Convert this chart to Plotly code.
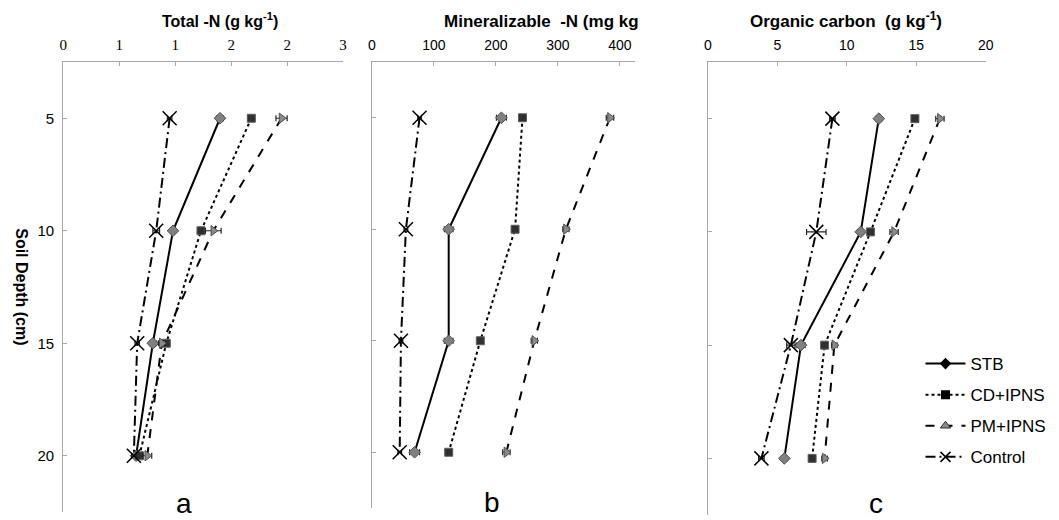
import plotly.graph_objects as go

# ---------------- data ----------------
depth = [5, 10, 15, 20]
series_names = ["STB", "CD+IPNS", "PM+IPNS", "Control"]

# Panel a: Total-N (g kg-1)
totn_stb = [1.40, 0.98, 0.80, 0.65]
totn_cd = [1.68, 1.23, 0.92, 0.68]
totn_pm = [1.95, 1.34, 0.88, 0.75]
totn_ctrl = [0.95, 0.83, 0.66, 0.63]
totn_stb_err = [0.03, 0.02, 0.03, 0.02]
totn_cd_err = [0.03, 0.03, 0.03, 0.03]
totn_pm_err = [0.05, 0.07, 0.03, 0.04]
totn_ctrl_err = [0.02, 0.03, 0.02, 0.02]

# Panel b: Mineralizable-N (mg kg-1)
minn_stb = [209, 124, 124, 69]
minn_cd = [243, 231, 175, 124]
minn_pm = [384, 313, 262, 217]
minn_ctrl = [77, 55, 47, 45]
minn_stb_err = [8, 7, 7, 8]
minn_cd_err = [4, 4, 4, 5]
minn_pm_err = [6, 5, 5, 6]
minn_ctrl_err = [3, 3, 3, 3]

# Panel c: Organic carbon (g kg-1)
oc_stb = [12.3, 11.0, 6.7, 5.5]
oc_cd = [14.9, 11.7, 8.4, 7.5]
oc_pm = [16.7, 13.4, 9.1, 8.4]
oc_ctrl = [8.96, 7.8, 5.97, 3.85]
oc_stb_err = [0.2, 0.2, 0.3, 0.2]
oc_cd_err = [0.2, 0.2, 0.2, 0.2]
oc_pm_err = [0.3, 0.3, 0.2, 0.2]
oc_ctrl_err = [0.2, 0.7, 0.3, 0.2]

totn_ticks = [0, 0.5, 1.0, 1.5, 2.0, 2.5]
totn_ticktext = ["0", "1", "1", "2", "2", "3"]
depth_ticks = [5, 10, 15, 20]

# ---------------- styles ----------------
styles = {
    "STB": dict(line=dict(color="black", width=2, dash="solid"),
                marker=dict(symbol="diamond", size=9, color="#808080",
                            line=dict(color="#505050", width=1))),
    "CD+IPNS": dict(line=dict(color="black", width=2, dash="dot"),
                    marker=dict(symbol="square", size=8, color="#303030",
                                line=dict(color="#606060", width=1))),
    "PM+IPNS": dict(line=dict(color="black", width=2, dash="dash"),
                    marker=dict(symbol="triangle-right", size=9, color="#8a8a8a",
                                line=dict(color="#505050", width=1))),
    "Control": dict(line=dict(color="black", width=2, dash="10px,4px,2px,4px"),
                    marker=dict(symbol="x-thin-open", size=14, color="black",
                                line=dict(color="black", width=1.5))),
}
legend_markers = {
    "STB": dict(symbol="diamond", size=9, color="black"),
    "CD+IPNS": dict(symbol="square", size=9, color="black"),
    "PM+IPNS": dict(symbol="triangle-up", size=9, color="#8a8a8a",
                    line=dict(color="#303030", width=1)),
    "Control": dict(symbol="x-thin-open", size=10, color="black",
                    line=dict(color="black", width=1.5)),
}

panels = [
    ("x", "y", [totn_stb, totn_cd, totn_pm, totn_ctrl],
     [totn_stb_err, totn_cd_err, totn_pm_err, totn_ctrl_err]),
    ("x2", "y2", [minn_stb, minn_cd, minn_pm, minn_ctrl],
     [minn_stb_err, minn_cd_err, minn_pm_err, minn_ctrl_err]),
    ("x3", "y3", [oc_stb, oc_cd, oc_pm, oc_ctrl],
     [oc_stb_err, oc_cd_err, oc_pm_err, oc_ctrl_err]),
]

fig = go.Figure()
for xa, ya, vals, errs in panels:
    for name, v, e in zip(series_names, vals, errs):
        st = styles[name]
        fig.add_trace(go.Scatter(
            x=v, y=depth, xaxis=xa, yaxis=ya, mode="lines+markers",
            line=st["line"], marker=st["marker"], showlegend=False,
            error_x=dict(type="data", array=e, visible=True, color="#222222",
                         thickness=1.2, width=3),
            name=name,
        ))

# legend entries
for i, name in enumerate(series_names):
    fig.add_trace(go.Scatter(
        x=[None], y=[None], xaxis="x3", yaxis="y3", mode="lines+markers",
        name=name, line=styles[name]["line"], marker=legend_markers[name],
        legendgroup=name, showlegend=True,
    ))

W, H = 1059, 520
axis_grey = "#a8a8a8"

def xdom(a, b):
    return [a / W, b / W]

def ydom(top, bottom):
    return [1 - bottom / H, 1 - top / H]

common_x = dict(side="top", showline=True, linecolor=axis_grey, linewidth=1.3,
                ticks="inside", ticklen=4, tickcolor=axis_grey, showgrid=False,
                zeroline=False, ticklabelstandoff=5,
                tickfont=dict(family="Liberation Sans, Arial", size=14))
common_y = dict(showline=True, linecolor=axis_grey, linewidth=1.3,
                ticks="inside", ticklen=4, tickcolor=axis_grey, showgrid=False,
                zeroline=False, tickvals=depth_ticks, autorange=False,
                range=[22.5, 2.5])

fig.update_layout(
    width=W, height=H,
    margin=dict(l=0, r=0, t=0, b=0),
    paper_bgcolor="white", plot_bgcolor="white",
    font=dict(family="Liberation Sans, Arial", size=14, color="black"),
    xaxis=dict(common_x, domain=xdom(60, 343), anchor="y", range=[0, 2.5],
               tickvals=totn_ticks, ticktext=totn_ticktext,
               tickfont=dict(family="Liberation Serif, Times New Roman", size=15)),
    yaxis=dict(common_y, domain=ydom(62, 512), anchor="x",
               tickfont=dict(size=15), ticklabelstandoff=5),
    xaxis2=dict(common_x, domain=xdom(372, 638), anchor="y2", range=[0, 424],
                tickvals=[0, 100, 200, 300, 400]),
    yaxis2=dict(common_y, domain=ydom(62, 508), anchor="x2", showticklabels=False),
    xaxis3=dict(common_x, domain=xdom(712, 993), anchor="y3", range=[0, 20],
                tickvals=[0, 5, 10, 15, 20]),
    yaxis3=dict(common_y, domain=ydom(62, 515), anchor="x3", showticklabels=False),
    legend=dict(x=927 / W, y=1 - 346 / H, xanchor="left", yanchor="top",
                font=dict(size=17), tracegroupgap=6, bgcolor="rgba(0,0,0,0)",
                itemwidth=40),
)

annots = [
    dict(text="<b>Total -N (g kg<sup>-1</sup>)</b>", x=218, y=20, xanchor="center", size=16),
    dict(text="<b>Mineralizable  -N (mg kg</b>", x=443, y=22, xanchor="left", size=17),
    dict(text="<b>Organic carbon  (g kg<sup>-1</sup>)</b>", x=852, y=20, xanchor="center", size=17),
    dict(text="a", x=182, y=503, xanchor="center", size=28),
    dict(text="b", x=494, y=502, xanchor="center", size=28),
    dict(text="c", x=882, y=503, xanchor="center", size=28),
]
for a in annots:
    fig.add_annotation(text=a["text"], x=a["x"] / W, y=1 - a["y"] / H,
                       xref="paper", yref="paper", xanchor=a["xanchor"],
                       yanchor="middle", showarrow=False,
                       font=dict(size=a["size"], color="black"))

fig.add_annotation(text="<b>Soil Depth (cm)</b>", x=18 / W, y=1 - 287 / H,
                   xref="paper", yref="paper", textangle=90, showarrow=False,
                   xanchor="center", yanchor="middle", font=dict(size=16))

fig.write_html("out.html", config={"displayModeBar": False},
               post_script="document.body.style.margin='0';document.body.style.overflow='hidden';")
